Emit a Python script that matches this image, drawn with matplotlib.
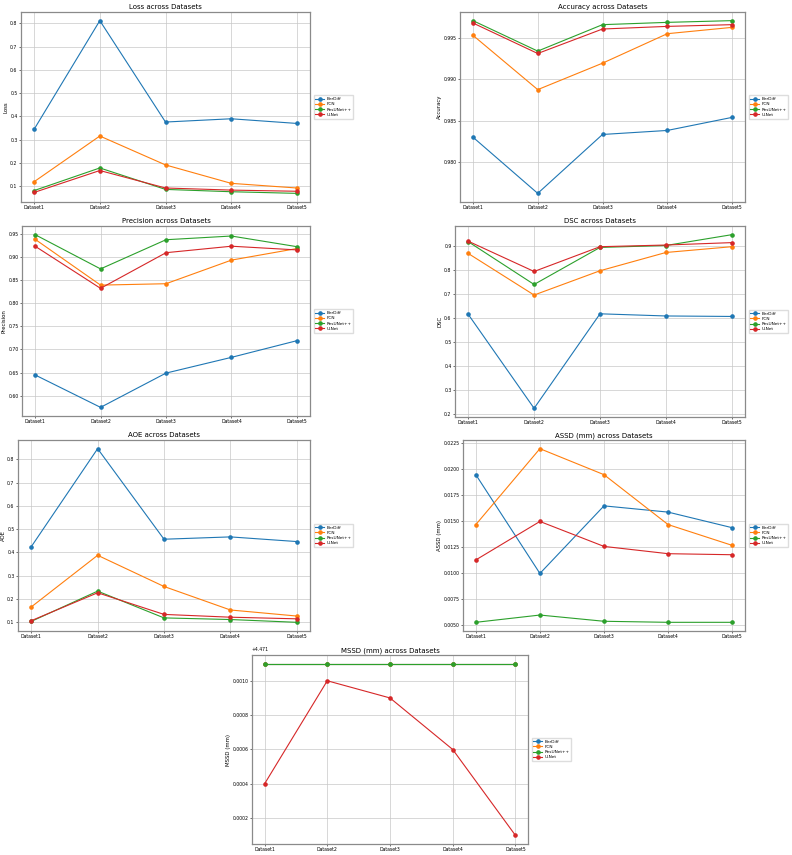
import matplotlib.pyplot as plt

W, H = 792, 855

datasets = ["Dataset1", "Dataset2", "Dataset3", "Dataset4", "Dataset5"]
models = ["BerDiff", "FCN", "ResUNet++", "U-Net"]

# metric -> values per model (order of models above)
loss = [
    [0.345, 0.811, 0.376, 0.390, 0.370],
    [0.120, 0.316, 0.192, 0.113, 0.093],
    [0.082, 0.179, 0.087, 0.077, 0.070],
    [0.074, 0.168, 0.093, 0.084, 0.079],
]
accuracy = [
    [0.98297, 0.97613, 0.98330, 0.98379, 0.98538],
    [0.99537, 0.98876, 0.99198, 0.99557, 0.99634],
    [0.99716, 0.99345, 0.99667, 0.99695, 0.99716],
    [0.99687, 0.99316, 0.99614, 0.99646, 0.99667],
]
precision = [
    [0.645, 0.575, 0.649, 0.683, 0.719],
    [0.938, 0.839, 0.842, 0.893, 0.918],
    [0.948, 0.874, 0.937, 0.945, 0.922],
    [0.923, 0.832, 0.909, 0.923, 0.915],
]
dsc = [
    [0.615, 0.224, 0.617, 0.608, 0.606],
    [0.868, 0.695, 0.796, 0.872, 0.896],
    [0.917, 0.739, 0.893, 0.901, 0.946],
    [0.919, 0.793, 0.896, 0.903, 0.913],
]
aoe = [
    [0.425, 0.846, 0.457, 0.467, 0.447],
    [0.166, 0.388, 0.254, 0.153, 0.127],
    [0.104, 0.234, 0.119, 0.112, 0.100],
    [0.107, 0.227, 0.134, 0.122, 0.115],
]
assd = [
    [0.0195, 0.0100, 0.0165, 0.0159, 0.0144],
    [0.0147, 0.0220, 0.0195, 0.0147, 0.0127],
    [0.0053, 0.0060, 0.0054, 0.0053, 0.0053],
    [0.0113, 0.0150, 0.0126, 0.0119, 0.0118],
]
mssd = [
    [4.4721, 4.4721, 4.4721, 4.4721, 4.4721],
    [4.4721, 4.4721, 4.4721, 4.4721, 4.4721],
    [4.4721, 4.4721, 4.4721, 4.4721, 4.4721],
    [4.4714, 4.4720, 4.4719, 4.4716, 4.4711],
]

# (name, data, axes box in pixels: left, top, right, bottom)
panels = [
    ("Loss", loss, (21, 12, 310, 202)),
    ("Accuracy", accuracy, (460, 12, 745, 202)),
    ("Precision", precision, (22, 226, 310, 416)),
    ("DSC", dsc, (455, 226, 745, 417)),
    ("AOE", aoe, (18, 440, 310, 631)),
    ("ASSD (mm)", assd, (463, 440, 745, 631)),
    ("MSSD (mm)", mssd, (252, 655, 528, 844)),
]

fig = plt.figure(figsize=(W / 100, H / 100), dpi=100)

for name, data, (l, t, r, b) in panels:
    ax = fig.add_axes([l / W, 1 - b / H, (r - l) / W, (b - t) / H])
    for model, vals in zip(models, data):
        ax.plot(datasets, vals, marker="o", markersize=2.3, linewidth=0.8, label=model)
    ax.set_title(f"{name} across Datasets", fontsize=5, pad=2)
    ax.set_ylabel(name, fontsize=3.9, labelpad=1)
    ax.grid(True, linewidth=0.5, color="#c8c8c8")
    ax.tick_params(labelsize=3.3, length=1.5, width=0.4, pad=1)
    ax.yaxis.get_offset_text().set_fontsize(3.3)
    for s in ax.spines.values():
        s.set_linewidth(0.9)
        s.set_color("#8a8a8a")
    ax.legend(loc="center left", bbox_to_anchor=(1.005, 0.5), fontsize=3.1,
              frameon=True, borderpad=0.4, handlelength=2.0, handletextpad=0.6,
              labelspacing=0.3, framealpha=1, edgecolor="#dddddd", fancybox=False)

fig.savefig("out.png", dpi=100)
